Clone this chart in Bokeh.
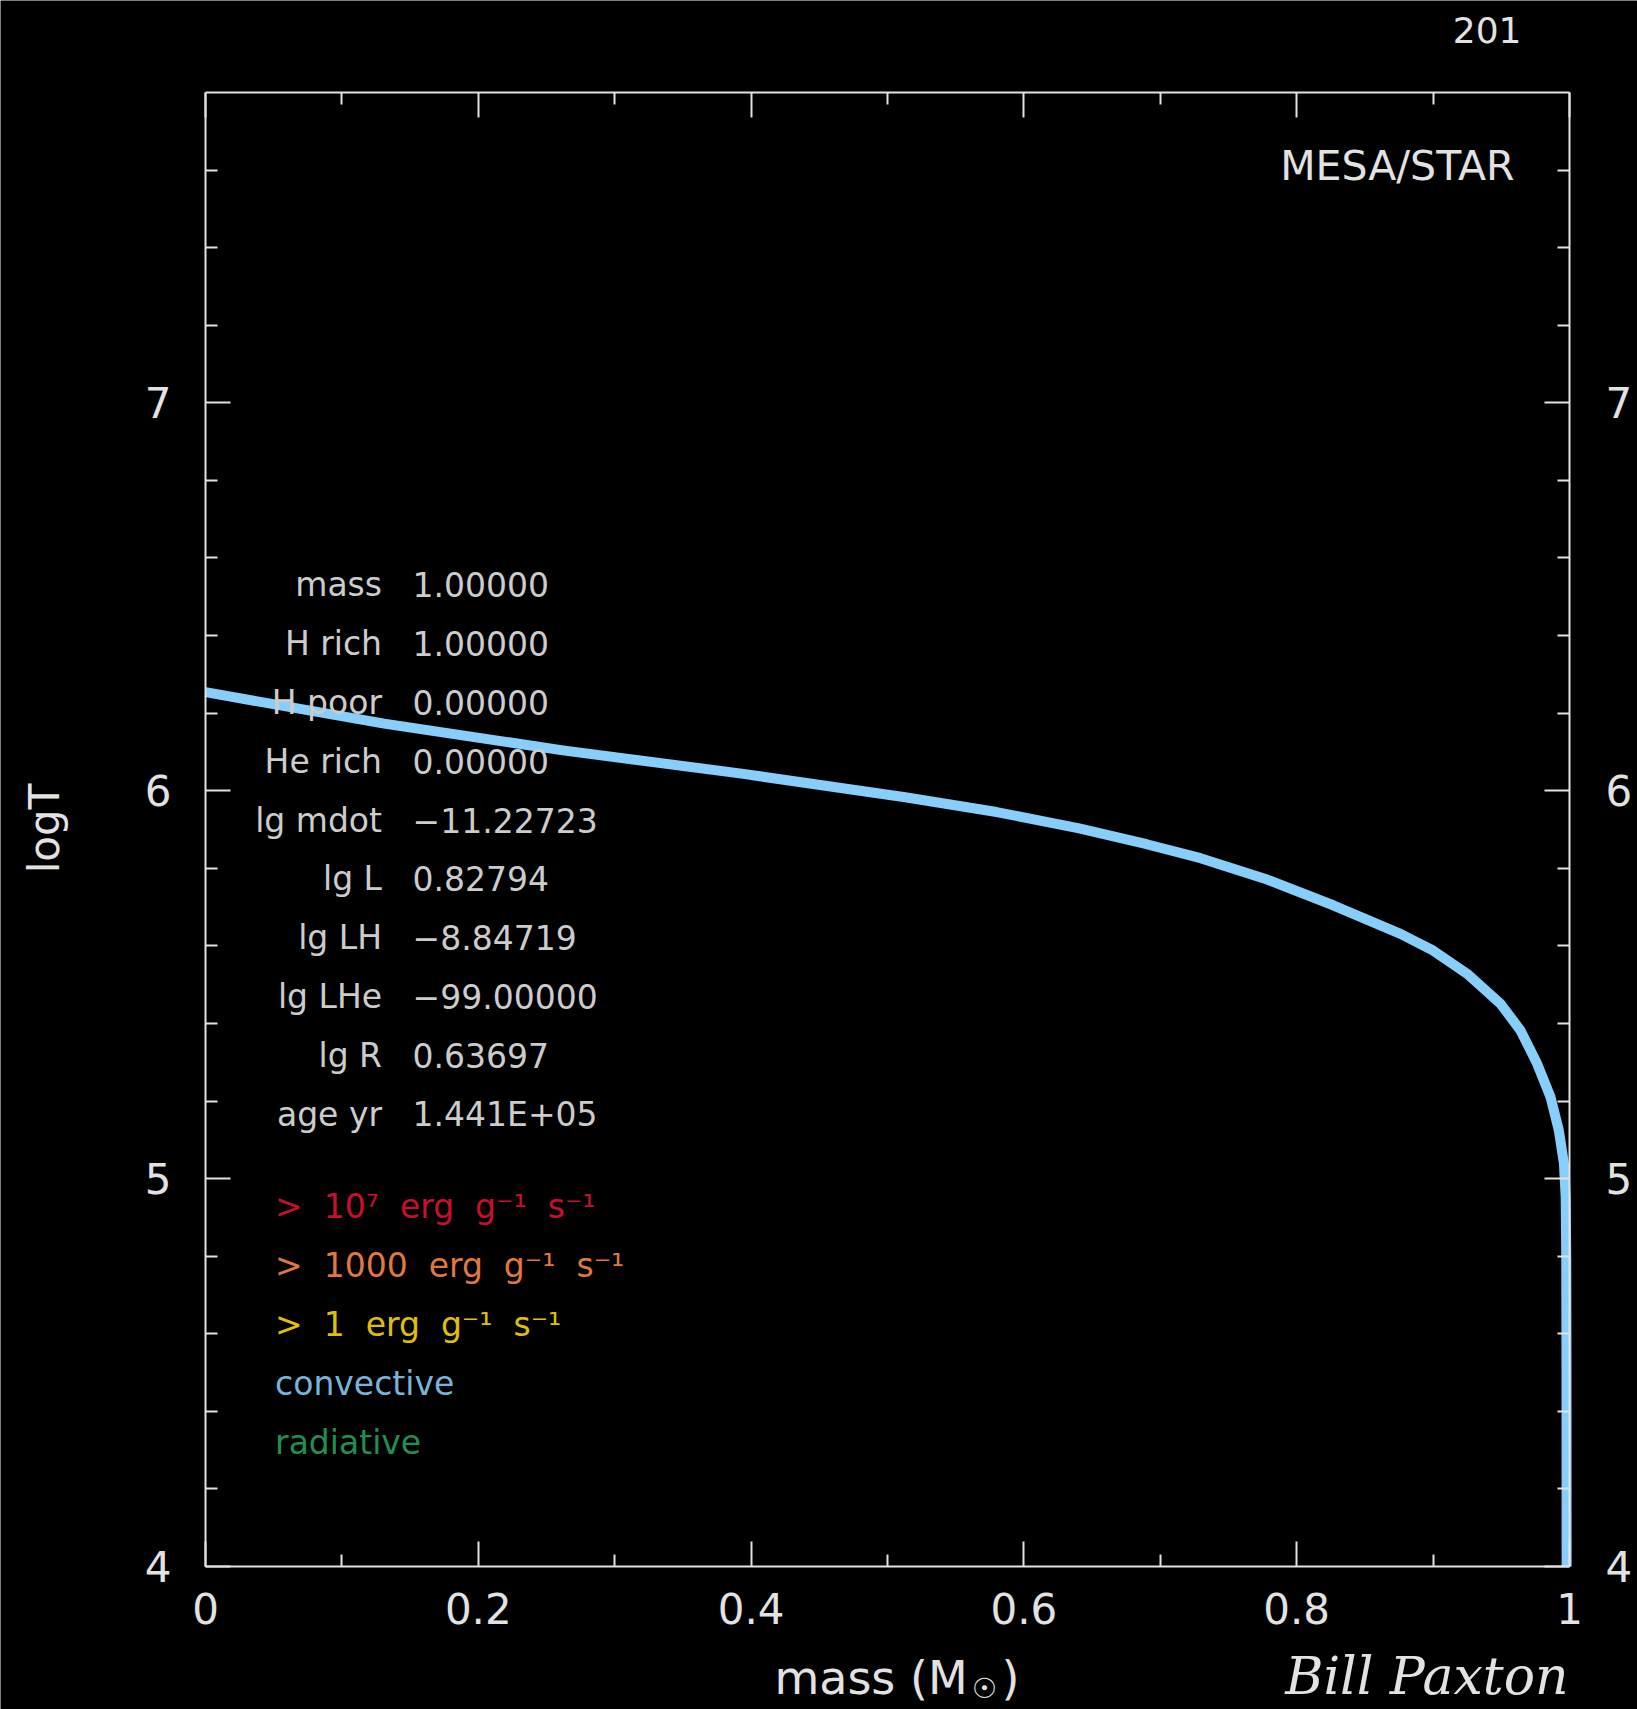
import math
from bokeh.plotting import figure
from bokeh.models import (Range1d, LinearAxis, FixedTicker, Label, ColumnDataSource,
                          CustomLabelingPolicy)
from bokeh.core.properties import value
from bokeh.embed import file_html
from bokeh.resources import INLINE

# ---- data ----
mass = [0.0, 0.131, 0.262, 0.393, 0.513, 0.58, 0.6405, 0.690, 0.7295, 0.7783,
        0.8272, 0.8761, 0.900, 0.925, 0.9494, 0.9641, 0.9763, 0.9861, 0.9922,
        0.9959, 0.9972, 0.9976, 0.9978, 0.9979]
logT = [6.254, 6.173, 6.104, 6.044, 5.983, 5.945, 5.903, 5.862, 5.826, 5.771,
        5.704, 5.631, 5.588, 5.528, 5.451, 5.382, 5.296, 5.210, 5.124,
        5.039, 4.952, 4.800, 4.500, 4.000]

info_names = ["mass", "H rich", "H poor", "He rich", "lg mdot", "lg L",
              "lg LH", "lg LHe", "lg R", "age yr"]
info_values = ["1.00000", "1.00000", "0.00000", "0.00000", "\u221211.22723",
               "0.82794", "\u22128.84719", "\u221299.00000", "0.63697", "1.441E+05"]

SP = " \u00a0"
legend_labels = [">" + SP + "10\u2077" + SP + "erg" + SP + "g\u207b\u00b9" + SP + "s\u207b\u00b9",
                 ">" + SP + "1000" + SP + "erg" + SP + "g\u207b\u00b9" + SP + "s\u207b\u00b9",
                 ">" + SP + "1" + SP + "erg" + SP + "g\u207b\u00b9" + SP + "s\u207b\u00b9",
                 "convective", "radiative"]
legend_colors = ["#c8102e", "#e07840", "#e0c000", "#78b4d8", "#1e9050"]

x_ticks = [0, 0.2, 0.4, 0.6, 0.8, 1]
x_tick_labels = ["0", "0.2", "0.4", "0.6", "0.8", "1"]
x_minor = [0.1, 0.3, 0.5, 0.7, 0.9]
y_ticks = [4, 5, 6, 7]
y_minor = [4.2, 4.4, 4.6, 4.8, 5.2, 5.4, 5.6, 5.8, 6.2, 6.4, 6.6, 6.8,
           7.2, 7.4, 7.6]
X_LO, X_HI = 0, 1
Y_LO, Y_HI = 4, 7.8

FONT = "DejaVu Sans"
FG = "#e2e2e2"
TXT = "#cccccc"

# the frame covers the whole canvas; the plotted box [0,1]x[4,7.8] sits at
# pixels 205..1569 (x) and 92..1566 (y from top)
p = figure(width=1637, height=1709,
           x_range=Range1d(-0.150293, 1.049853), y_range=Range1d(3.63135, 8.03718),
           output_backend="svg", toolbar_location=None,
           x_axis_location=None, y_axis_location=None,
           background_fill_color="black", border_fill_color="black",
           min_border=0, min_border_left=0, min_border_right=0,
           min_border_top=0, min_border_bottom=0)
p.grid.visible = False
p.outline_line_color = None

xt = FixedTicker(ticks=x_ticks, minor_ticks=x_minor)
yt = FixedTicker(ticks=y_ticks, minor_ticks=y_minor)


def style(ax, standoff):
    ax.axis_line_color = FG
    ax.axis_line_width = 2
    ax.major_tick_line_color = FG
    ax.major_tick_line_width = 2
    ax.minor_tick_line_color = FG
    ax.minor_tick_line_width = 2
    ax.major_tick_in = 25
    ax.major_tick_out = 0
    ax.minor_tick_in = 12
    ax.minor_tick_out = 0
    ax.major_label_text_color = FG
    ax.major_label_text_font = FONT
    ax.major_label_text_font_size = "42px"
    ax.major_label_standoff = standoff


xb = LinearAxis(ticker=xt, fixed_location=Y_LO, bounds=(X_LO, X_HI))
xb.major_label_overrides = {t: s for t, s in zip(x_ticks, x_tick_labels)}
style(xb, 26)
p.add_layout(xb, "below")

xa = LinearAxis(ticker=xt, fixed_location=Y_HI, bounds=(X_LO, X_HI))
style(xa, 0)
xa.major_label_policy = CustomLabelingPolicy(
    code="for (const i of indices) { indices.unset(i) }\nreturn indices")
p.add_layout(xa, "above")

yl = LinearAxis(ticker=yt, fixed_location=X_LO, bounds=(Y_LO, Y_HI))
style(yl, 34)
p.add_layout(yl, "left")

yr = LinearAxis(ticker=yt, fixed_location=X_HI, bounds=(Y_LO, Y_HI))
style(yr, 36)
p.add_layout(yr, "right")

# curve
p.line(mass, logT, line_color="#87cefa", line_width=10, line_join="round")

# info block
row0 = 6.531
dy = 0.1517
rows_y = [row0 - i * dy for i in range(len(info_names))]
src_names = ColumnDataSource(dict(x=[0.1294] * len(info_names), y=rows_y, t=info_names))
src_vals = ColumnDataSource(dict(x=[0.1518] * len(info_values), y=rows_y, t=info_values))
p.text(x="x", y="y", text="t", source=src_names, text_align="right",
       text_baseline="middle", text_font=value(FONT), text_font_size="33px",
       text_color=TXT)
p.text(x="x", y="y", text="t", source=src_vals, text_align="left",
       text_baseline="middle", text_font=value(FONT), text_font_size="33px",
       text_color=TXT)

leg0 = 4.927
src_leg = ColumnDataSource(dict(x=[0.051] * len(legend_labels),
                                y=[leg0 - i * dy for i in range(len(legend_labels))],
                                t=legend_labels, c=legend_colors))
p.text(x="x", y="y", text="t", source=src_leg, text_color="c", text_align="left",
       text_baseline="middle", text_font=value(FONT), text_font_size="33px")


# annotations
def lab(x, y, text, size, align="left", font=FONT, style="normal", angle=0.0):
    p.add_layout(Label(x=x, y=y, text=text, text_align=align, text_baseline="middle",
                       text_font=font, text_font_style=style, text_font_size=size,
                       text_color=FG, angle=angle))


lab(0.9597, 7.6105, "MESA/STAR", "41px", align="right")
lab(0.9648, 7.9624, "201", "36px", align="right")
lab(-0.118, 5.9026, "logT", "42px", align="center", angle=math.pi / 2)
lab(0.5587, 3.7125, "mass (M", "46px", align="right")
lab(0.5711, 3.685, "\u2609", "28px", align="center")
lab(0.5836, 3.7125, ")", "46px", align="left")
lab(0.9993, 3.7177, "Bill Paxton", "52px", align="right", font="DejaVu Serif",
    style="italic")

open("out.html", "w").write(file_html(p, INLINE))
